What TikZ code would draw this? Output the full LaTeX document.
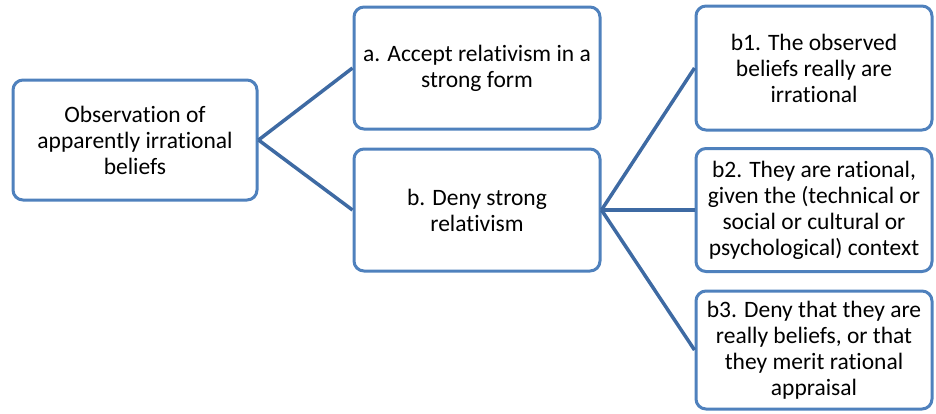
\documentclass[tikz,border=0pt]{standalone}
\usepackage{fontspec}
\setmainfont[Ligatures=NoCommon]{Carlito}
\definecolor{boxblue}{HTML}{4F81BD}
\definecolor{linkblue}{HTML}{3E6AA3}

\begin{document}
\begin{tikzpicture}[x=1pt, y=-1pt,
    stepbox/.style={rectangle, rounded corners=10pt, draw=boxblue, line width=3pt,
        fill=white, align=center, font=\fontsize{23.5}{26}\selectfont, inner sep=2pt},
    link/.style={draw=linkblue, line width=3.5pt}]
\useasboundingbox (0,0) rectangle (936,413);
\node[stepbox, minimum width=244pt, minimum height=120pt] (obs) at (135,140)
    {Observation of\\apparently irrational\\beliefs};
\node[stepbox, minimum width=246pt, minimum height=122pt] (a) at (477,68)
    {a. Accept relativism in a\\strong form};
\node[stepbox, minimum width=246pt, minimum height=122pt] (b) at (477,210)
    {b. Deny strong\\relativism};
\node[stepbox, minimum width=236pt, minimum height=124pt] (b1) at (814,68)
    {b1. The observed\\beliefs really are\\irrational};
\node[stepbox, minimum width=236pt, minimum height=123pt] (b2) at (814,210)
    {b2. They are rational,\\given the (technical or\\social or cultural or\\psychological) context};
\node[stepbox, minimum width=236pt, minimum height=118pt] (b3) at (814,350)
    {b3. Deny that they are\\really beliefs, or that\\they merit rational\\appraisal};
\draw[link] (obs.east) -- (a.west);
\draw[link] (obs.east) -- (b.west);
\draw[link] (b.east) -- (b1.west);
\draw[link] (b.east) -- (b2.west);
\draw[link] (b.east) -- (b3.west);
\end{tikzpicture}
\end{document}
